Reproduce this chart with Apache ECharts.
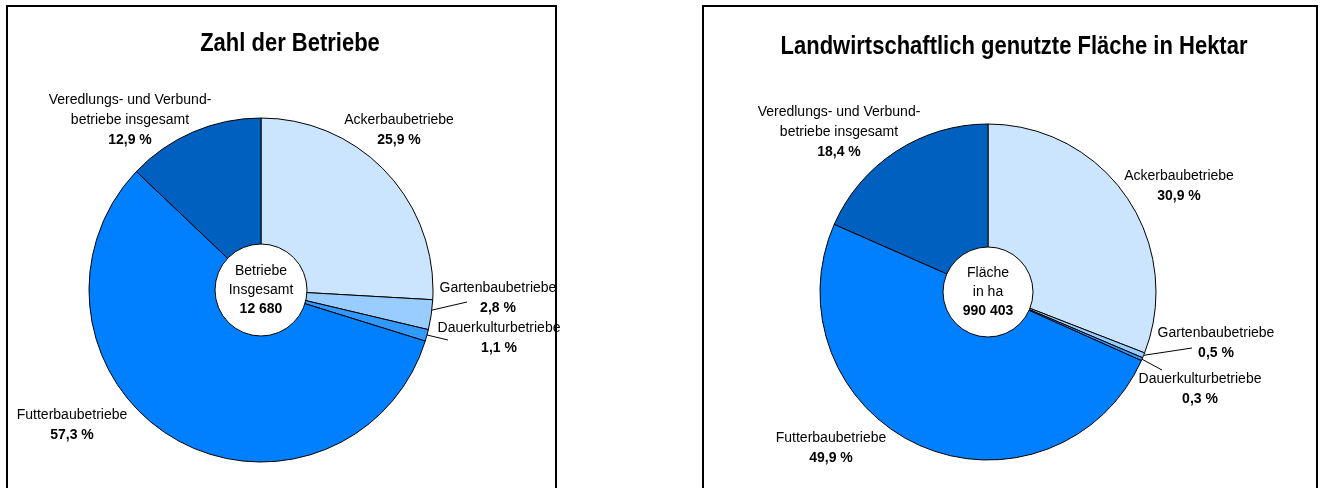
<!DOCTYPE html>
<html><head><meta charset="utf-8">
<script src="https://cdn.jsdelivr.net/npm/echarts@6/dist/echarts.min.js"></script>
<style>html,body{margin:0;padding:0;background:#fff;} #c{width:1322px;height:488px;}</style>
</head><body><div id="c"></div>
<script>
// ---- data ----
const categories = ['Ackerbaubetriebe', 'Gartenbaubetriebe', 'Dauerkulturbetriebe', 'Futterbaubetriebe', 'Veredlungs- und Verbund-\nbetriebe insgesamt'];
const betriebeShare = [25.9, 2.8, 1.1, 57.3, 12.9];
const flaecheShare = [30.9, 0.5, 0.3, 49.9, 18.4];
const totals = [12680, 990403];
const totalLabels = ['Betriebe\nInsgesamt', 'Fläche\nin ha'];
const titles = ['Zahl der Betriebe', 'Landwirtschaftlich genutzte Fläche in Hektar'];

// ---- styles / layout ----
const colors = ['#CCE5FF', '#99CCFF', '#3399FF', '#0080FF', '#0060C0'];
const FONT = '"Liberation Sans", Arial, Helvetica, sans-serif';
const panels = [
  { values: betriebeShare, center: [261, 290], r: 172, inner: 46, lineStart: 0.93, title: [290, 44],
    labels: [[399, 130], [498, 298], [499, 338], [72, 425], [130, 120]],
    lineEnd: { 1: [467, 302], 2: [448, 340] }, box: [7, 6, 549, 520] },
  { values: flaecheShare, center: [988, 292], r: 168, inner: 45, lineStart: 1.0, title: [1014, 47],
    labels: [[1179, 186], [1216, 343], [1200, 389], [831, 448], [839, 132]],
    lineEnd: { 1: [1192, 348], 2: [1162, 370] }, box: [703, 6, 614, 520] }
];

function fmtPct(v) { return v.toFixed(1).replace('.', ',') + ' %'; }
function fmtTotal(n) { return String(n).replace(/\B(?=(\d{3})+(?!\d))/g, ' '); }

const series = [];
const graphic = [];
panels.forEach((p, i) => {
  const vals = p.values;
  const sum = vals.reduce((a, b) => a + b, 0);
  series.push({
    type: 'pie', center: p.center, radius: p.r, startAngle: 90, clockwise: true,
    avoidLabelOverlap: false, silent: true, animation: false,
    itemStyle: { borderColor: '#000', borderWidth: 1 },
    label: {
      show: true, position: 'outside', color: '#000',
      formatter: (prm) => prm.name.split('\n').map(l => '{n|' + l + '}').join('\n') + '\n{v|' + fmtPct(prm.value) + '}',
      rich: {
        n: { fontSize: 14, lineHeight: 20, color: '#000', fontFamily: FONT, align: 'center' },
        v: { fontSize: 14, lineHeight: 20, color: '#000', fontFamily: FONT, fontWeight: 'bold', align: 'center' }
      }
    },
    labelLine: { show: false, lineStyle: { color: '#000', width: 1 } },
    data: categories.map((c, k) => ({
      name: c, value: vals[k], itemStyle: { color: colors[k] },
      labelLine: { show: k === 1 || k === 2, length: 10, length2: 10, lineStyle: { color: '#000', width: 1 } }
    })),
    labelLayout: function (prm) {
      const k = prm.dataIndex;
      const pos = p.labels[k];
      const out = { x: pos[0], y: pos[1], align: 'center', verticalAlign: 'middle' };
      if (p.lineEnd[k]) {
        let cum = 0;
        for (let j = 0; j < k; j++) cum += vals[j];
        const mid = (cum + vals[k] / 2) / sum * Math.PI * 2;
        const sx = p.center[0] + Math.sin(mid) * p.r * p.lineStart;
        const sy = p.center[1] - Math.cos(mid) * p.r * p.lineStart;
        const e = p.lineEnd[k];
        out.labelLinePoints = [[sx, sy], [e[0], e[1]], [e[0], e[1]]];
      }
      return out;
    }
  });
  series.push({
    type: 'pie', center: p.center, radius: [0, p.inner], silent: true, animation: false,
    itemStyle: { color: '#fff', borderColor: '#000', borderWidth: 1 },
    label: {
      show: true, position: 'center', color: '#000',
      formatter: (prm) => prm.name.split('\n').map(l => '{n|' + l + '}').join('\n') + '\n{b|' + fmtTotal(prm.value) + '}',
      rich: {
        n: { fontSize: 14, lineHeight: 19, color: '#000', fontFamily: FONT },
        b: { fontSize: 14, lineHeight: 19, color: '#000', fontFamily: FONT, fontWeight: 'bold' }
      }
    },
    labelLine: { show: false },
    data: [{ name: totalLabels[i], value: totals[i] }]
  });
  graphic.push({
    type: 'rect', silent: true,
    shape: { x: p.box[0], y: p.box[1], width: p.box[2], height: p.box[3] },
    style: { fill: 'none', stroke: '#000', lineWidth: 2 }
  });
  graphic.push({
    type: 'text', silent: true, x: p.title[0], y: p.title[1], scaleX: 0.88,
    style: { text: titles[i], fill: '#000', font: 'bold 25px ' + FONT,
      align: 'center', verticalAlign: 'middle', textAlign: 'center', textVerticalAlign: 'middle' }
  });
});

const chart = echarts.init(document.getElementById('c'), null, { renderer: 'canvas' });
chart.setOption({
  animation: false,
  backgroundColor: '#fff',
  color: colors,
  series: series,
  graphic: graphic
});
</script>
</body></html>
